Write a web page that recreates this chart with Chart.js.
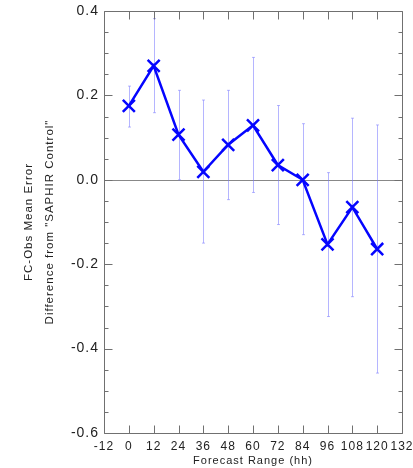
<!DOCTYPE html>
<html>
<head>
<meta charset="utf-8">
<script src="https://cdn.jsdelivr.net/npm/chart.js@4"></script>
<style>
  html, body { margin: 0; padding: 0; background: #fff; }
  #wrap { width: 413px; height: 468px; }
</style>
</head>
<body>
<div id="wrap"><canvas id="chart" width="413" height="468"></canvas></div>
<script>
// forecast range (hh)
const ranges = [0, 12, 24, 36, 48, 60, 72, 84, 96, 108, 120];
const meanError = [0.175, 0.27, 0.107, 0.019, 0.083, 0.129, 0.035, 0.0, -0.153, -0.065, -0.164];
const errTop = [0.222, 0.382, 0.212, 0.189, 0.212, 0.29, 0.176, 0.133, 0.017, 0.146, 0.13];
const errBottom = [0.125, 0.159, 0.0, -0.15, -0.047, -0.03, -0.106, -0.13, -0.324, -0.277, -0.458];
const xTicks = [-12, 0, 12, 24, 36, 48, 60, 72, 84, 96, 108, 120, 132];
const yTicks = [-0.6, -0.4, -0.2, 0.0, 0.2, 0.4];
const yMinor = [-0.55, -0.5, -0.45, -0.35, -0.3, -0.25, -0.15, -0.1, -0.05, 0.05, 0.1, 0.15, 0.25, 0.3, 0.35];

const axisColor = "#707070";

// error bars and zero line, under the line
const errorBars = {
    id: "errorBars",
    beforeDatasetsDraw(chart) {
        const { ctx, chartArea: a, scales: { x, y } } = chart;
        ctx.save();
        ctx.lineWidth = 1;
        ctx.strokeStyle = "#888";
        const y0 = Math.round(y.getPixelForValue(0)) + 0.5;
        ctx.beginPath();
        ctx.moveTo(a.left, y0);
        ctx.lineTo(a.right, y0);
        ctx.stroke();

        ctx.strokeStyle = "rgba(120,120,255,0.55)";
        ctx.beginPath();
        ranges.forEach((r, i) => {
            const px = Math.round(x.getPixelForValue(r)) + 0.5;
            const t = y.getPixelForValue(errTop[i]);
            const b = y.getPixelForValue(errBottom[i]);
            ctx.moveTo(px, t);
            ctx.lineTo(px, b);
            ctx.moveTo(px - 1.5, t);
            ctx.lineTo(px + 1.5, t);
            ctx.moveTo(px - 1.5, b);
            ctx.lineTo(px + 1.5, b);
        });
        ctx.stroke();
        ctx.restore();
    }
};

// box with inward ticks
const frame = {
    id: "frame",
    beforeLayout(chart) {
        chart.ctx.letterSpacing = "1px";
    },
    afterDraw(chart) {
        const { ctx, chartArea: a, scales: { x, y } } = chart;
        const L = Math.round(a.left) + 0.5, R = Math.round(a.right) + 0.5;
        const T = Math.round(a.top) + 0.5, B = Math.round(a.bottom) + 0.5;
        ctx.save();
        ctx.strokeStyle = axisColor;
        ctx.lineWidth = 1;
        ctx.beginPath();
        ctx.moveTo(L, T);
        ctx.lineTo(R, T);
        ctx.lineTo(R, B);
        ctx.lineTo(L, B);
        ctx.closePath();
        xTicks.forEach(v => {
            const px = Math.round(x.getPixelForValue(v)) + 0.5;
            ctx.moveTo(px, B);
            ctx.lineTo(px, B - 8);
            ctx.moveTo(px, T);
            ctx.lineTo(px, T + 8);
        });
        yTicks.forEach(v => {
            const py = Math.round(y.getPixelForValue(v)) + 0.5;
            ctx.moveTo(L, py);
            ctx.lineTo(L + 8, py);
            ctx.moveTo(R, py);
            ctx.lineTo(R - 8, py);
        });
        yMinor.forEach(v => {
            const py = Math.round(y.getPixelForValue(v)) + 0.5;
            ctx.moveTo(L, py);
            ctx.lineTo(L + 4, py);
            ctx.moveTo(R, py);
            ctx.lineTo(R - 4, py);
        });
        ctx.stroke();
        ctx.restore();
    }
};

new Chart(document.getElementById("chart"), {
    type: "line",
    data: {
        datasets: [{
            data: ranges.map((r, i) => ({ x: r, y: meanError[i] })),
            borderColor: "#0505ff",
            backgroundColor: "#0505ff",
            borderWidth: 2.5,
            pointStyle: "crossRot",
            pointRadius: 8.5,
            pointBorderWidth: 2.5,
            tension: 0
        }]
    },
    options: {
        responsive: false,
        animation: false,
        layout: { padding: { top: 9, right: 9, left: 18, bottom: 0 } },
        plugins: { legend: { display: false }, tooltip: { enabled: false } },
        scales: {
            x: {
                type: "linear",
                min: -12,
                max: 132,
                afterBuildTicks(s) { s.ticks = xTicks.map(v => ({ value: v })); },
                afterFit(s) {
                    s.height = 35;
                    s.paddingLeft = 0;
                    s.paddingRight = 0;
                },
                grid: { display: false, drawTicks: false },
                border: { display: false },
                ticks: {
                    color: "#222",
                    font: { family: "Liberation Sans", size: 12 },
                    padding: 6,
                    maxRotation: 0,
                    autoSkip: false,
                    callback: v => String(v)
                },
                title: {
                    display: true,
                    text: "Forecast Range (hh)",
                    color: "#222",
                    font: { family: "Liberation Sans", size: 11 },
                    padding: { top: 0, bottom: 0 }
                }
            },
            y: {
                min: -0.6,
                max: 0.4,
                afterBuildTicks(s) { s.ticks = yTicks.map(v => ({ value: v })); },
                afterFit(s) {
                    s.width = 86;
                    s.paddingTop = 0;
                    s.paddingBottom = 0;
                },
                grid: { display: false, drawTicks: false },
                border: { display: false },
                ticks: {
                    color: "#222",
                    font: { family: "Liberation Sans", size: 14 },
                    padding: 5,
                    autoSkip: false,
                    callback: v => v.toFixed(1)
                },
                title: {
                    display: true,
                    text: ["FC-Obs Mean Error", "Difference from \"SAPHIR Control\""],
                    color: "#222",
                    font: { family: "Liberation Sans", size: 11.5, lineHeight: 1.85 },
                    padding: { top: 0, bottom: 0 }
                }
            }
        }
    },
    plugins: [errorBars, frame]
});
</script>
</body>
</html>
